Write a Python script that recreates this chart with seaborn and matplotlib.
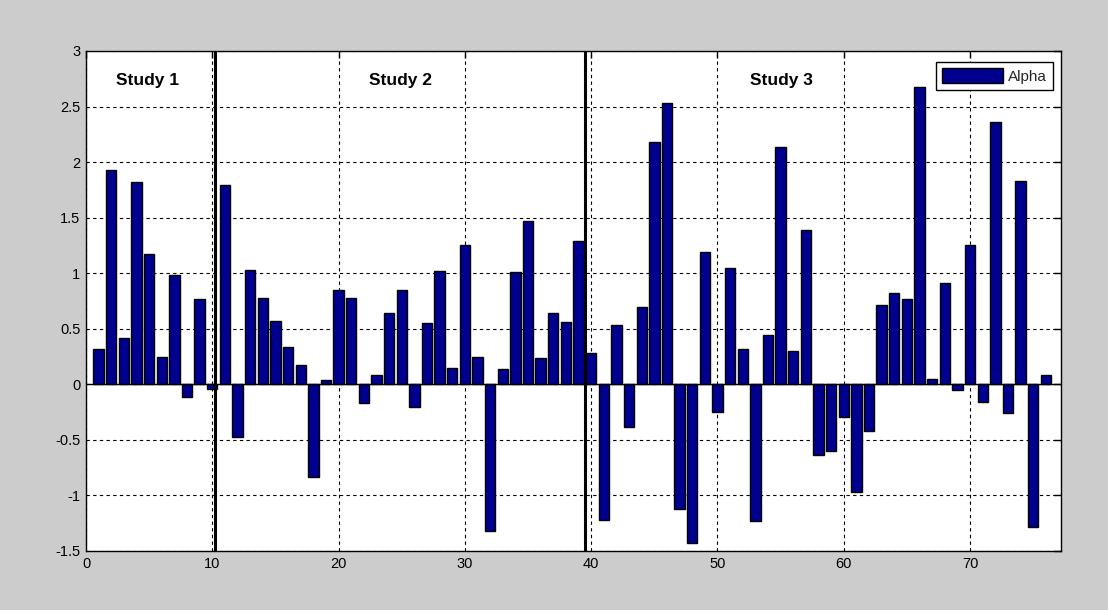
import matplotlib
matplotlib.use("Agg")
import matplotlib.pyplot as plt
import seaborn as sns
import pandas as pd
from matplotlib.patches import Patch

trial = list(range(1, 77))
alpha = [0.32, 1.93, 0.42, 1.82, 1.17, 0.25, 0.98, -0.11, 0.77, -0.04,
         1.79, -0.47, 1.03, 0.78, 0.57, 0.34, 0.17, -0.83, 0.04, 0.85,
         0.78, -0.17, 0.08, 0.64, 0.85, -0.20, 0.55, 1.02, 0.15, 1.25,
         0.25, -1.32, 0.14, 1.01, 1.47, 0.24, 0.64, 0.56, 1.29, 0.28,
         -1.22, 0.53, -0.38, 0.70, 2.18, 2.53, -1.12, -1.43, 1.19, -0.25,
         1.05, 0.32, -1.23, 0.44, 2.14, 0.30, 1.39, -0.64, -0.60, -0.29,
         -0.97, -0.42, 0.71, 0.82, 0.77, 2.68, 0.05, 0.91, -0.05, 1.25,
         -0.16, 2.36, -0.26, 1.83, -1.28, 0.08]
study_labels = ["Study 1", "Study 2", "Study 3"]
study_label_x = [4.9, 24.9, 55.1]
study_bounds = [10.2, 39.5]
xticks = [0, 10, 20, 30, 40, 50, 60, 70]
yticks = [-1.5, -1, -0.5, 0, 0.5, 1, 1.5, 2, 2.5, 3]
ytick_labels = ["-1.5", "-1", "-0.5", "0", "0.5", "1", "1.5", "2", "2.5", "3"]

df = pd.DataFrame({"trial": trial, "alpha": alpha})

sns.set_style("white")
plt.rcParams["font.family"] = ["Liberation Sans", "DejaVu Sans"]

fig = plt.figure(figsize=(11.08, 6.10), dpi=100, facecolor="#cccccc")
ax = fig.add_axes([86/1108, 1 - 551/610, (1061-86)/1108, 500/610])
ax.set_facecolor("white")

bar_color = "#00008f"
sns.barplot(data=df, x="trial", y="alpha", native_scale=True, width=0.82,
            color=bar_color, saturation=1, edgecolor="black", linewidth=1.0,
            ax=ax, zorder=3)

ax.set_xlim(0, 77.2)
ax.set_ylim(-1.5, 3)
ax.set_xticks(xticks)
ax.set_xticklabels([str(t) for t in xticks])
ax.set_yticks(yticks)
ax.set_yticklabels(ytick_labels)
ax.set_xlabel("")
ax.set_ylabel("")

ax.grid(True, color="black", linestyle=(0, (3, 3)), linewidth=0.8, zorder=1)
ax.set_axisbelow(True)
ax.tick_params(direction="in", length=5, width=1, top=True, right=True,
               labelsize=10.5, colors="black", pad=4)
for s in ax.spines.values():
    s.set_visible(True)
    s.set_color("black")
    s.set_linewidth(1.0)

ax.axhline(0, color="black", linewidth=1.0, zorder=4)
for b in study_bounds:
    ax.axvline(b, color="black", linewidth=2.2, zorder=5)

for lab, lx in zip(study_labels, study_label_x):
    ax.text(lx, 2.73, lab, ha="center", va="center", fontsize=12.5,
            fontweight="bold", color="black", zorder=6)

leg = ax.legend(handles=[Patch(facecolor=bar_color, edgecolor="black", label="Alpha")],
                loc="upper right", bbox_to_anchor=(0.9918, 0.978), fontsize=11,
                frameon=True, fancybox=False, framealpha=1, edgecolor="black",
                handlelength=4.0, handleheight=1.1, borderpad=0.4,
                handletextpad=0.3, borderaxespad=0)
leg.get_frame().set_linewidth(1.0)

fig.savefig("out.png", dpi=100, facecolor=fig.get_facecolor())
